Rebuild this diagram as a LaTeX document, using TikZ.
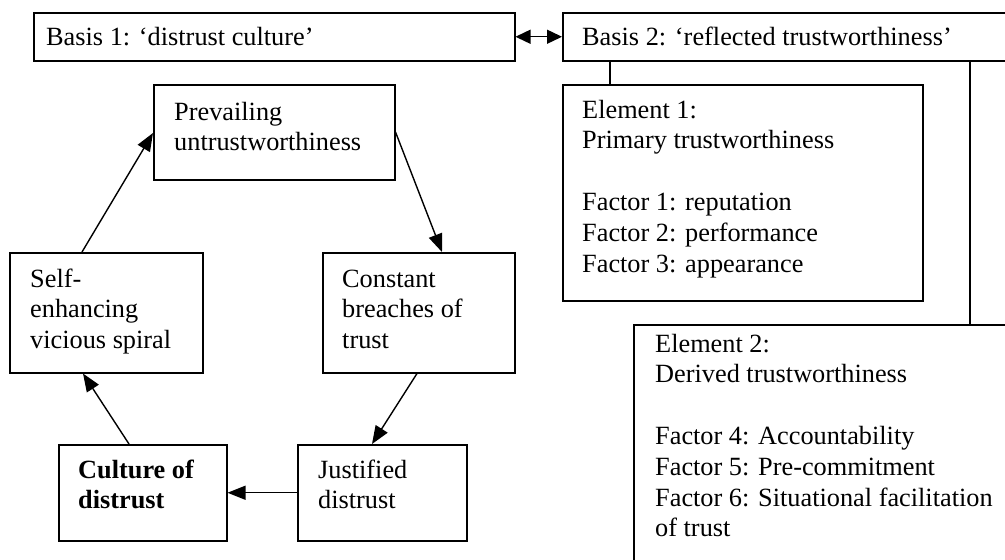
\documentclass[tikz,border=0pt]{standalone}
\usepackage{fontspec}
\setmainfont{Liberation Serif}
\usetikzlibrary{arrows.meta,calc}
\newcommand{\boxtext}[2]{\parbox[t]{#1}{\raggedright #2}}
\begin{document}
\begin{tikzpicture}[x=1pt,y=-1pt,
  box/.style={draw, line width=1.5pt, rectangle, inner sep=0pt, anchor=north west},
  txt/.style={anchor=base west, inner sep=0pt, font=\fontsize{26.3}{30.8}\selectfont},
  arr/.style={line width=1.4pt, -{Triangle[length=18pt,width=14pt]}},
  lnk/.style={line width=1.5pt}]
\clip (0,0) rectangle (1005,560);
% top row
\node[box, minimum width=481pt, minimum height=48pt] (b1) at (33,12) {};
\node[txt] (tb1) at (46,45) {Basis 1: ‘distrust culture’};
\node[box, minimum width=480pt, minimum height=48pt] (b2) at (562,12) {};
\node[txt] (tb2) at (582,45) {Basis 2: ‘reflected trustworthiness’};
\draw[line width=1.4pt, {Triangle[length=15pt,width=14pt]}-{Triangle[length=15pt,width=14pt]}] (b1.east) -- (b2.west);
% elements
\node[box, minimum width=360pt, minimum height=216pt] (e1) at (562,84) {};
\node[txt] (te1) at (582,118) {\boxtext{330pt}{Element 1:\\Primary trustworthiness\\[30.8pt]Factor 1: reputation\\Factor 2: performance\\Factor 3: appearance}};
\node[box, minimum width=420pt, minimum height=300pt] (e2) at (633,324) {};
\node[txt] (te2) at (655,352) {\boxtext{360pt}{Element 2:\\Derived trustworthiness\\[30.8pt]Factor 4: Accountability\\Factor 5: Pre-commitment\\Factor 6: Situational facilitation\\of trust}};
\draw[lnk] ($(e1.north west)+(48,0)$) -- ($(b2.south west)+(48,0)$);
\draw[lnk] ($(e2.north west)+(337,0)$) -- ($(b2.south west)+(408,0)$);
% cycle
\node[box, minimum width=241pt, minimum height=95pt] (P) at (153,84) {};
\node[txt] (tP) at (174,120) {\boxtext{220pt}{Prevailing\\untrustworthiness}};
\node[box, minimum width=193pt, minimum height=120pt] (S) at (9,252) {};
\node[txt] (tS) at (30,287) {\boxtext{170pt}{Self-\\enhancing\\vicious spiral}};
\node[box, minimum width=192pt, minimum height=120pt] (C) at (322,252) {};
\node[txt] (tC) at (342,287) {\boxtext{170pt}{Constant\\breaches of\\trust}};
\node[box, minimum width=168pt, minimum height=96pt] (Cu) at (58,444) {};
\node[txt] (tCu) at (78,478) {\boxtext{150pt}{\textbf{Culture of}\\\textbf{distrust}}};
\node[box, minimum width=169pt, minimum height=96pt] (J) at (297,444) {};
\node[txt] (tJ) at (318,478) {\boxtext{150pt}{Justified\\distrust}};
\draw[arr] ($(S.north west)+(73,0)$) -- ($(P.north west)+(0,49)$);
\draw[arr] ($(P.north east)+(0,48)$) -- ($(C.north west)+(120,0)$);
\draw[arr] ($(C.south west)+(95,0)$) -- ($(J.north west)+(75,0)$);
\draw[arr] (J.west) -- (Cu.east);
\draw[arr] ($(Cu.north west)+(71,0)$) -- ($(S.south west)+(74,0)$);
\end{tikzpicture}
\end{document}
